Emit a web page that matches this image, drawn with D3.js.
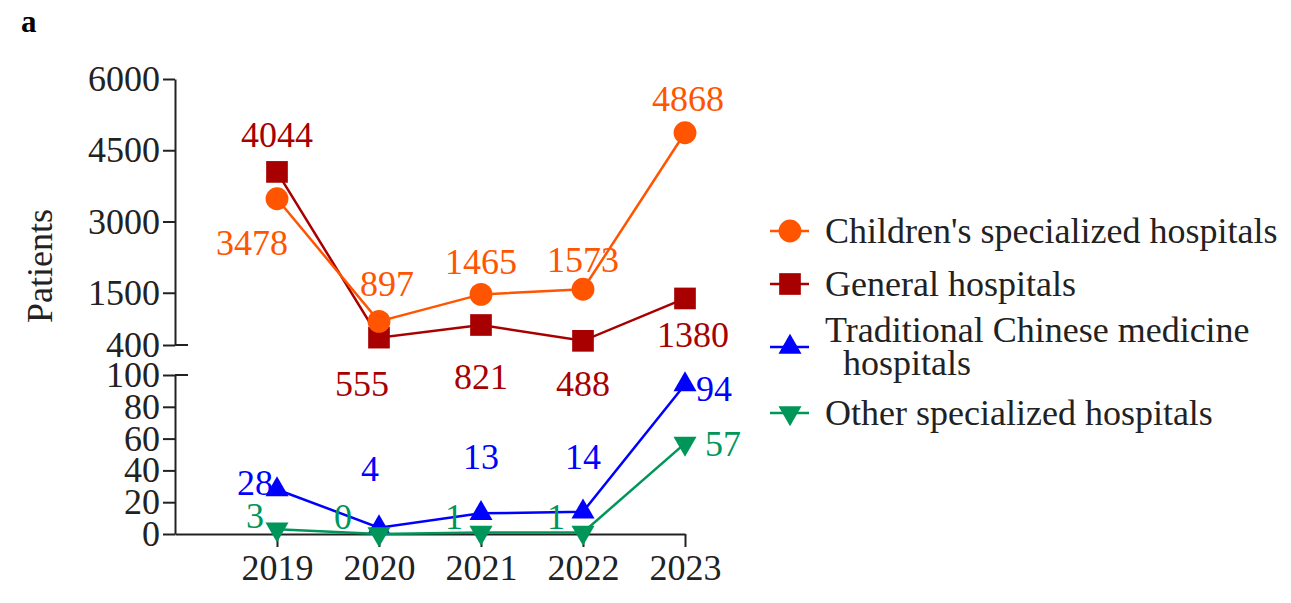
<!DOCTYPE html>
<html>
<head>
<meta charset="utf-8">
<script src="https://cdn.jsdelivr.net/npm/d3@7"></script>
<style>
  body { margin: 0; background: #fff; }
  text { font-family: "Liberation Serif", "Times New Roman", serif; }
</style>
</head>
<body>
<div id="chart"></div>
<script>
(function () {
  // data
  var years = ["2019", "2020", "2021", "2022", "2023"];
  var children = [3478, 897, 1465, 1573, 4868];
  var general = [4044, 555, 821, 488, 1380];
  var tcm = [28, 4, 13, 14, 94];
  var other = [3, 0, 1, 1, 57];
  var topTicks = [400, 1500, 3000, 4500, 6000];
  var bottomTicks = [0, 20, 40, 60, 80, 100];

  const Orange = "#FF5500";
  const DarkRed = "#A80000";
  const Blue = "#0000FF";
  const Green = "#00965A";
  const Ink = "#222";
  const fontSize = "36px";

  var width = 1291, height = 603;
  var axisX = 175;

  var svg = d3.select("#chart").append("svg")
    .attr("width", width)
    .attr("height", height);

  // scales
  var x = d3.scalePoint().domain(years).range([axisX, 685]).padding(0.5).align(1);
  var yTop = d3.scaleLinear().domain([400, 6000]).range([345, 79]);
  var yBot = d3.scaleLinear().domain([0, 100]).range([534, 375]);

  // panel label
  svg.append("text")
    .attr("x", 21).attr("y", 32)
    .style("font-size", "31px").style("font-weight", "bold")
    .text("a");

  // y axis title
  svg.append("text")
    .attr("transform", "translate(52,266) rotate(-90)")
    .attr("text-anchor", "middle")
    .style("font-size", fontSize)
    .attr("fill", Ink)
    .text("Patients");

  function styleAxis(g) {
    g.select(".domain").attr("stroke", Ink).attr("stroke-width", 2);
    g.selectAll(".tick line").attr("stroke", Ink).attr("stroke-width", 2);
    g.selectAll(".tick text")
      .attr("fill", Ink)
      .style("font-size", fontSize)
      .style("font-family", '"Liberation Serif", "Times New Roman", serif');
  }

  svg.append("g")
    .attr("transform", "translate(" + axisX + ",0)")
    .call(d3.axisLeft(yTop).tickValues(topTicks).tickFormat(d3.format("d"))
      .tickSize(12).tickSizeOuter(0).tickPadding(3))
    .call(styleAxis);

  svg.append("g")
    .attr("transform", "translate(" + axisX + ",0)")
    .call(d3.axisLeft(yBot).tickValues(bottomTicks).tickFormat(d3.format("d"))
      .tickSize(12).tickSizeOuter(0).tickPadding(3))
    .call(styleAxis);

  // break marks crossing the axis
  [yTop(400), yBot(100)].forEach(function (yy) {
    svg.append("line")
      .attr("x1", axisX).attr("x2", axisX + 13)
      .attr("y1", yy).attr("y2", yy)
      .attr("stroke", Ink).attr("stroke-width", 2);
  });

  // x axis
  svg.append("g")
    .attr("transform", "translate(0," + yBot(0) + ")")
    .call(d3.axisBottom(x).tickSize(13).tickSizeOuter(0).tickPadding(7))
    .call(styleAxis);

  // series
  var series = [
    { name: "General hospitals", values: general, y: yTop, color: DarkRed, symbol: d3.symbolSquare, size: 470, rotate: 0,
      labels: [[0, -25, "middle"], [-17, 58, "middle"], [0, 64, "middle"], [0, 55, "middle"], [8, 49, "middle"]] },
    { name: "Children's specialized hospitals", values: children, y: yTop, color: Orange, symbol: d3.symbolCircle, size: 410, rotate: 0,
      labels: [[-25, 56, "middle"], [8, -25, "middle"], [0, -20, "middle"], [0, -17, "middle"], [3, -22, "middle"]] },
    { name: "Traditional Chinese medicine hospitals", values: tcm, y: yBot, color: Blue, symbol: d3.symbolTriangle, size: 230, rotate: 0,
      labels: [[-22, 6, "middle"], [-9, -47, "middle"], [0, -44, "middle"], [0, -43, "middle"], [11, 16, "start"]] },
    { name: "Other specialized hospitals", values: other, y: yBot, color: Green, symbol: d3.symbolTriangle, size: 230, rotate: 180,
      labels: [[-22, -1, "middle"], [-36, -5, "middle"], [-27, -3, "middle"], [-27, -3, "middle"], [20, 13, "start"]] }
  ];

  series.forEach(function (s) {
    var pts = s.values.map(function (v, i) { return { year: years[i], value: v, i: i }; });
    var line = d3.line()
      .x(function (d) { return x(d.year); })
      .y(function (d) { return s.y(d.value); });

    svg.append("path")
      .datum(pts)
      .attr("d", line)
      .attr("fill", "none")
      .attr("stroke", s.color)
      .attr("stroke-width", 2.5);

    svg.selectAll(null)
      .data(pts)
      .enter()
      .append("path")
      .attr("d", d3.symbol().type(s.symbol).size(s.size))
      .attr("transform", function (d) {
        return "translate(" + x(d.year) + "," + s.y(d.value) + ") rotate(" + s.rotate + ")";
      })
      .attr("fill", s.color);

    svg.selectAll(null)
      .data(pts)
      .enter()
      .append("text")
      .attr("x", function (d) { return x(d.year) + s.labels[d.i][0]; })
      .attr("y", function (d) { return s.y(d.value) + s.labels[d.i][1]; })
      .attr("text-anchor", function (d) { return s.labels[d.i][2]; })
      .attr("fill", s.color)
      .style("font-size", fontSize)
      .text(function (d) { return d.value; });
  });

  // legend
  var legendOrder = [1, 0, 2, 3];
  var legendY = [231, 284, 347, 413];
  var legend = svg.append("g");
  legendOrder.forEach(function (idx, k) {
    var s = series[idx];
    var cy = legendY[k];
    legend.append("line")
      .attr("x1", 770).attr("x2", 809)
      .attr("y1", cy).attr("y2", cy)
      .attr("stroke", s.color).attr("stroke-width", 2.5);
    legend.append("path")
      .attr("d", d3.symbol().type(s.symbol).size(s.size))
      .attr("transform", "translate(790," + cy + ") rotate(" + s.rotate + ")")
      .attr("fill", s.color);
    if (idx === 2) {
      legend.append("text").attr("x", 825).attr("y", cy - 5)
        .attr("fill", Ink).style("font-size", fontSize).text("Traditional Chinese medicine");
      legend.append("text").attr("x", 843).attr("y", cy + 28)
        .attr("fill", Ink).style("font-size", fontSize).text("hospitals");
    } else {
      legend.append("text").attr("x", 825).attr("y", cy + 12)
        .attr("fill", Ink).style("font-size", fontSize).text(s.name);
    }
  });
})();
</script>
</body>
</html>
